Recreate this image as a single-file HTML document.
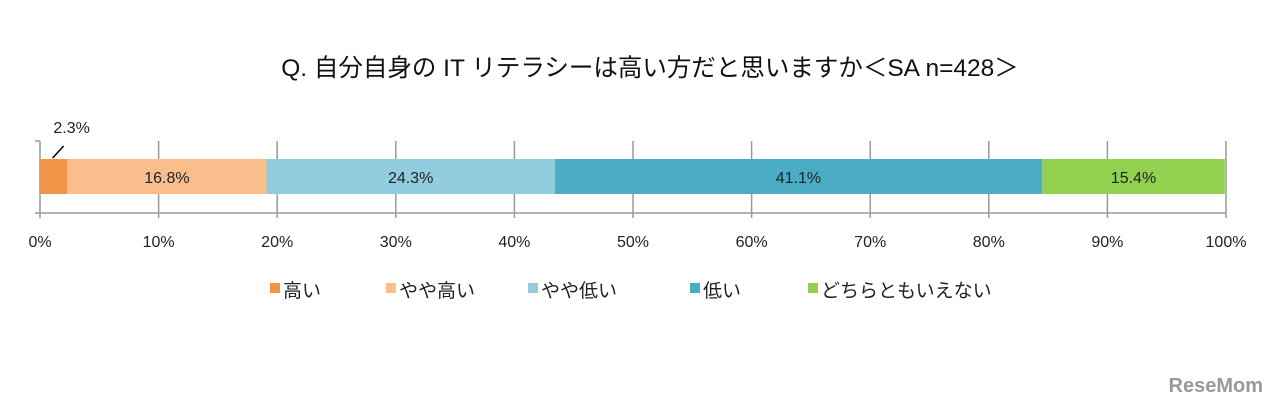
<!DOCTYPE html>
<html><head><meta charset="utf-8"><style>
body{margin:0;width:1280px;height:406px;background:#fff;overflow:hidden;font-family:"Liberation Sans","Noto Sans CJK JP",sans-serif}
svg text{font-family:"Liberation Sans","Noto Sans CJK JP",sans-serif}
</style></head><body>
<svg width="1280" height="406">
<text x="650" y="76" text-anchor="middle" font-size="24.5" fill="#111">Q.  自分自身の IT リテラシーは高い方だと思いますか＜SA n=428＞</text>
<g id="grid"></g><g id="bars"></g><g id="ticks"></g><g id="legend"></g>
<text x="1263" y="392" text-anchor="end" font-size="20" font-weight="bold" fill="#999">ReseMom</text>
</svg>
<script>
const categories=["高い","やや高い","やや低い","低い","どちらともいえない"];
const values=[2.3,16.8,24.3,41.1,15.4];
const colors=["#f09545","#f9be8c","#92cddf","#4bacc6","#92d050"];
const ticks=[0,10,20,30,40,50,60,70,80,90,100];
const NS="http://www.w3.org/2000/svg";
const x0=40,x1=1226;const X=v=>x0+(x1-x0)*v/100;
function mk(t,a,p){const e=document.createElementNS(NS,t);for(const k in a)e.setAttribute(k,a[k]);p.appendChild(e);return e;}
const grid=document.getElementById('grid'),bars=document.getElementById('bars'),tk=document.getElementById('ticks'),lg=document.getElementById('legend');
ticks.forEach(t=>{
 const l=mk('line',{x1:X(t),x2:X(t),y1:141,y2:218,stroke:'#999','stroke-width':1.5},grid);
 
 
 const tx=mk('text',{x:X(t),y:247,'text-anchor':'middle','font-size':16,fill:'#222'},tk);tx.textContent=t+'%';
 
 
});
const ax=mk('line',{x1:35,x2:x1,y1:213,y2:213,stroke:'#999','stroke-width':1.5},grid);


mk('line',{x1:35,x2:40,y1:141,y2:141,stroke:'#999','stroke-width':1.5},grid);
let cum=0;
values.forEach((v,i)=>{
 const r=mk('rect',{x:X(cum),y:159,width:X(cum+v)-X(cum),height:35,fill:colors[i]},bars);
 
 
 const cx=(X(cum)+X(cum+v))/2;
 if(v>5){const t=mk('text',{x:cx,y:183,'text-anchor':'middle','font-size':16,fill:'#222'},bars);t.textContent=v.toFixed(1)+'%';
 
 }
 else{const t=mk('text',{x:cx+18,y:133,'text-anchor':'middle','font-size':16,fill:'#222'},bars);t.textContent=v.toFixed(1)+'%';
 
 
 mk('line',{x1:cx-1,y1:158,x2:cx+10,y2:146,stroke:'#000','stroke-width':1.5},bars);}
 cum+=v;
});
const lx=[270,386,528,690,808];
categories.forEach((c,i)=>{
 const g=mk('g',{},lg);
 
 
 mk('rect',{x:lx[i],y:283,width:10,height:10,fill:colors[i]},g);
 const t=mk('text',{x:lx[i]+13,y:297,'font-size':19,fill:'#222'},g);t.textContent=c;
});
</script>
</body></html>
